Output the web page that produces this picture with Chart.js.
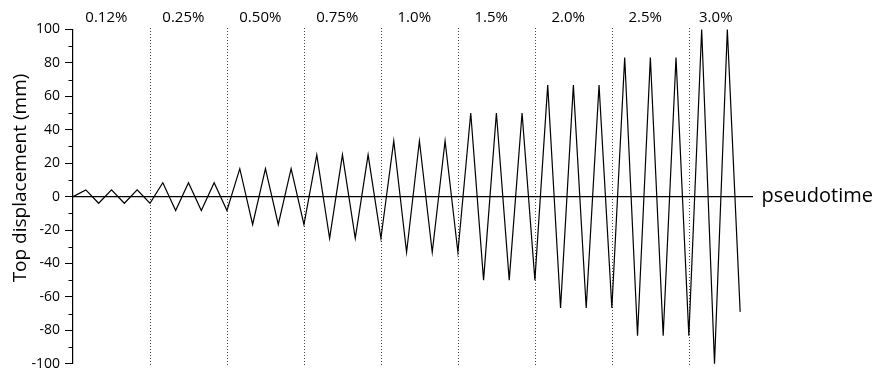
<!DOCTYPE html>
<html>
<head>
<meta charset="utf-8">
<script src="https://cdn.jsdelivr.net/npm/chart.js@4.4.0/dist/chart.umd.min.js"></script>
<style>
  html, body { margin: 0; padding: 0; background: #ffffff; }
  canvas { display: block; }
</style>
</head>
<body>
<canvas id="chart" width="872" height="369"></canvas>
<script>
// Drift levels of the cyclic loading protocol (three cycles each)
const driftLevels = ['0.12%', '0.25%', '0.50%', '0.75%', '1.0%', '1.5%', '2.0%', '2.5%', '3.0%'];

// Pseudotime at which each drift level starts; last entry is the end of the time axis
const levelBounds = [0, 6, 12, 18, 24, 30, 36, 42, 48, 53];

// Imposed top displacement (mm), one value per half cycle
const displacement = [
  0,
  4, -4, 4, -4, 4, -4,
  8.3, -8.3, 8.3, -8.3, 8.3, -8.3,
  16.7, -16.7, 16.7, -16.7, 16.7, -16.7,
  25, -25, 25, -25, 25, -25,
  33.3, -33.3, 33.3, -33.3, 33.3, -33.3,
  50, -50, 50, -50, 50, -50,
  66.7, -66.7, 66.7, -66.7, 66.7, -66.7,
  83.3, -83.3, 83.3, -83.3, 83.3, -83.3,
  100, -100, 100, -69
];

// Labelled ticks on the displacement axis
const yTickLabels = [-100, -80, -60, -40, -20, 0, 20, 40, 60, 80, 100];

const FONT = '"Open Sans", "Noto Sans", "DejaVu Sans", sans-serif';
const points = displacement.map((v, i) => ({ x: i, y: v }));

const protocolDecor = {
  id: 'protocolDecor',
  beforeDatasetsDraw(chart) {
    const { ctx, chartArea, scales: { x, y } } = chart;
    ctx.save();
    // dotted separators between drift levels
    ctx.strokeStyle = '#444';
    ctx.lineWidth = 1;
    ctx.setLineDash([1, 2]);
    for (let i = 1; i < levelBounds.length - 1; i++) {
      const px = Math.round(x.getPixelForValue(levelBounds[i])) + 0.5;
      ctx.beginPath();
      ctx.moveTo(px, chartArea.top - 1.5);
      ctx.lineTo(px, chartArea.bottom + 1.5);
      ctx.stroke();
    }
    ctx.setLineDash([]);
    // time axis through zero
    const y0 = y.getPixelForValue(0);
    ctx.strokeStyle = '#000';
    ctx.lineWidth = 1.4;
    ctx.beginPath();
    ctx.moveTo(x.getPixelForValue(0), y0);
    ctx.lineTo(x.getPixelForValue(levelBounds[levelBounds.length - 1]), y0);
    ctx.stroke();
    ctx.restore();
  },
  afterDraw(chart) {
    const { ctx, chartArea, scales: { x, y } } = chart;
    ctx.save();
    ctx.fillStyle = '#000';
    // drift level captions
    ctx.font = '15px ' + FONT;
    ctx.textAlign = 'center';
    ctx.textBaseline = 'alphabetic';
    driftLevels.forEach((lab, i) => {
      const mid = (levelBounds[i] + levelBounds[i + 1]) / 2 - 0.4;
      ctx.fillText(lab, x.getPixelForValue(mid), 21.5);
    });
    // time axis name
    ctx.font = '20px ' + FONT;
    ctx.textAlign = 'left';
    ctx.fillText('pseudotime', chartArea.right + 8.5, y.getPixelForValue(0) + 5);
    // displacement axis title
    ctx.font = '19px ' + FONT;
    ctx.translate(26, 178);
    ctx.rotate(-Math.PI / 2);
    ctx.textAlign = 'center';
    ctx.fillText('Top displacement (mm)', 0, 0);
    ctx.restore();
    // minor ticks
    ctx.save();
    ctx.strokeStyle = '#000';
    ctx.lineWidth = 1;
    for (let v = -90; v <= 90; v += 20) {
      const py = Math.round(y.getPixelForValue(v)) + 0.5;
      ctx.beginPath();
      ctx.moveTo(chartArea.left - 4.5, py);
      ctx.lineTo(chartArea.left, py);
      ctx.stroke();
    }
    ctx.restore();
  }
};

new Chart(document.getElementById('chart'), {
  type: 'line',
  data: {
    datasets: [{
      data: points,
      borderColor: '#000',
      borderWidth: 1.2,
      pointRadius: 0,
      tension: 0,
      fill: false,
      clip: false
    }]
  },
  options: {
    responsive: false,
    animation: false,
    devicePixelRatio: 1,
    layout: { padding: { left: 0, right: 119, top: 29.5, bottom: 5.3 } },
    plugins: { legend: { display: false }, tooltip: { enabled: false } },
    scales: {
      x: {
        type: 'linear',
        min: levelBounds[0],
        max: levelBounds[levelBounds.length - 1],
        display: false
      },
      y: {
        type: 'linear',
        min: yTickLabels[0],
        max: yTickLabels[yTickLabels.length - 1],
        afterBuildTicks(scale) {
          scale.ticks = yTickLabels.map(v => ({ value: v }));
        },
        afterFit(scale) {
          scale.width = 73;
          scale.paddingTop = 0;
          scale.paddingBottom = 0;
        },
        border: { display: true, color: '#000', width: 1.2 },
        grid: {
          drawOnChartArea: false,
          drawTicks: true,
          tickLength: 8,
          tickColor: '#000',
          tickWidth: 1
        },
        ticks: {
          color: '#000',
          padding: 5,
          font: { family: FONT, size: 14 },
          callback: v => String(v)
        }
      }
    }
  },
  plugins: [protocolDecor]
});
</script>
</body>
</html>
